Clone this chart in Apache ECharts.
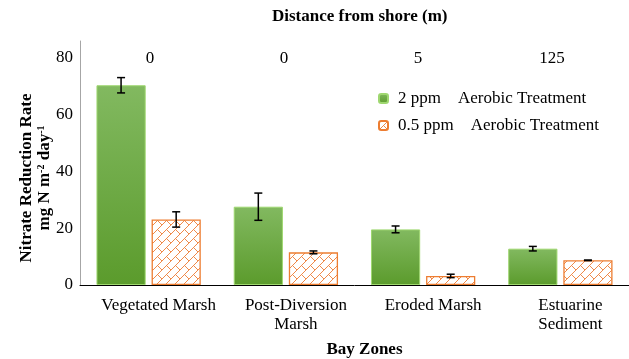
<!DOCTYPE html>
<html>
<head>
<meta charset="utf-8">
<script src="https://cdn.jsdelivr.net/npm/echarts@6/dist/echarts.min.js"></script>
<style>
html,body{margin:0;padding:0;background:#fff;}
#chart{width:629px;height:359px;}
</style>
</head>
<body>
<div id="chart"></div>
<script>
// ---- data ----
const categories = ['Vegetated Marsh', 'Post-Diversion\nMarsh', 'Eroded Marsh', 'Estuarine\nSediment'];
const distances = ['0', '0', '5', '125'];
const seriesNames = ['2 ppm    Aerobic Treatment', '0.5 ppm    Aerobic Treatment'];
const high2ppm = [70.4, 27.6, 19.6, 12.8];
const high2ppmErr = [2.7, 4.8, 1.2, 0.8];
const low05ppm = [23.1, 11.5, 3.2, 8.7];
const low05ppmErr = [2.7, 0.5, 0.6, 0.1];
const yTicks = [0, 20, 40, 60, 80];

// ---- styles ----
const FONT = '"Liberation Serif", "Times New Roman", Times, serif';
const CAT_GAP = 0.24, BAR_GAP = 0.12;

function brickPattern() {
  const s = 9;
  const c = document.createElement('canvas');
  c.width = s; c.height = s;
  const g = c.getContext('2d');
  g.fillStyle = '#ffffff';
  g.fillRect(0, 0, s, s);
  g.strokeStyle = '#ef8a4a';
  g.lineWidth = 1;
  g.beginPath();
  g.moveTo(-1, s + 1); g.lineTo(s + 1, -1);
  g.moveTo(s / 2, s / 2); g.lineTo(s + 1, s + 1);
  g.stroke();
  return c;
}

const greenFill = new echarts.graphic.LinearGradient(0, 0, 0, 1, [
  { offset: 0, color: '#82b960' },
  { offset: 1, color: '#5b9b2c' }
]);

function errData(vals, errs) {
  return vals.map((v, i) => [i, v - errs[i], v + errs[i]]);
}

function errRender(sign) {
  return function (params, api) {
    const x = api.value(0);
    const lo = api.coord([x, api.value(1)]);
    const hi = api.coord([x, api.value(2)]);
    const band = api.size([1, 0])[0];
    const w = band * (1 - CAT_GAP) / (2 + BAR_GAP);
    const off = sign * (w + w * BAR_GAP) / 2;
    const cx = lo[0] + off;
    const cap = 4;
    const st = { stroke: '#000', lineWidth: 1.5 };
    return {
      type: 'group',
      children: [
        { type: 'line', shape: { x1: cx, y1: lo[1], x2: cx, y2: hi[1] }, style: st },
        { type: 'line', shape: { x1: cx - cap, y1: lo[1], x2: cx + cap, y2: lo[1] }, style: st },
        { type: 'line', shape: { x1: cx - cap, y1: hi[1], x2: cx + cap, y2: hi[1] }, style: st }
      ]
    };
  };
}

const txt = (extra) => Object.assign({ fontFamily: FONT, fontSize: 17, fontWeight: 'normal', fontStyle: 'normal', color: '#000' }, extra || {});

const chart = echarts.init(document.getElementById('chart'));
chart.setOption({
  animation: false,
  backgroundColor: '#fff',
  textStyle: { fontFamily: FONT },
  title: {
    text: 'Distance from shore (m)',
    left: 272, top: 8, padding: 0,
    textStyle: txt({ fontWeight: 'bold' })
  },
  legend: {
    orient: 'vertical',
    left: 378, top: 90, padding: 0,
    itemWidth: 9, itemHeight: 9, itemGap: 10,
    data: seriesNames,
    textStyle: txt({ padding: [0, 0, 0, 5] })
  },
  grid: [
    { left: 80, right: 0, top: 41, bottom: 74, containLabel: false, outerBoundsMode: 'none' },
    { left: 83, width: 536, top: 69, height: 10, containLabel: false, outerBoundsMode: 'none' }
  ],
  xAxis: [
    {
      type: 'category', gridIndex: 0, data: categories,
      axisLine: { lineStyle: { color: '#000', width: 1 } },
      axisTick: { show: false },
      axisLabel: txt({ interval: 0, lineHeight: 19, margin: 11, padding: [0, 0, 0, 20] }),
      name: 'Bay Zones', nameLocation: 'middle', nameGap: 56, nameMoveOverlap: false,
      nameTextStyle: txt({ fontWeight: 'bold', padding: [0, 0, 0, 20] })
    },
    {
      type: 'category', gridIndex: 1, position: 'top', data: distances,
      axisLine: { show: false }, axisTick: { show: false },
      axisLabel: txt({ interval: 0, margin: 2 })
    }
  ],
  yAxis: [
    {
      type: 'value', gridIndex: 0, min: 0, max: 86, interval: 20,
      axisLine: { show: true, lineStyle: { color: '#a6a6a6', width: 1 } },
      axisTick: { show: false },
      splitLine: { show: false },
      axisLabel: txt({ showMaxLabel: false, margin: 7 }),
      name: '{a|Nitrate Reduction Rate}\n{a|mg N m}{s|-2}{a| day}{s|-1}',
      nameLocation: 'middle', nameRotate: 90, nameGap: 26, nameMoveOverlap: false,
      nameTextStyle: {
        color: '#000',
        padding: [0, 30, 0, 0],
        rich: {
          a: txt({ fontWeight: 'bold', lineHeight: 18 }),
          s: txt({ fontSize: 10, fontWeight: 'bold', verticalAlign: 'top', lineHeight: 18 })
        }
      }
    },
    { type: 'value', gridIndex: 1, show: false }
  ],
  series: [
    {
      name: seriesNames[0], type: 'bar', xAxisIndex: 0, yAxisIndex: 0,
      data: high2ppm,
      barGap: (BAR_GAP * 100) + '%', barCategoryGap: (CAT_GAP * 100) + '%',
      itemStyle: { color: greenFill, borderColor: '#9fd770', borderWidth: 1 }
    },
    {
      name: seriesNames[1], type: 'bar', xAxisIndex: 0, yAxisIndex: 0,
      data: low05ppm,
      barGap: (BAR_GAP * 100) + '%', barCategoryGap: (CAT_GAP * 100) + '%',
      itemStyle: { color: { image: brickPattern(), repeat: 'repeat' }, borderColor: '#ed7d31', borderWidth: 1.3 }
    },
    {
      type: 'custom', xAxisIndex: 0, yAxisIndex: 0, z: 5,
      data: errData(high2ppm, high2ppmErr),
      encode: { x: 0, y: [1, 2] },
      renderItem: errRender(-1)
    },
    {
      type: 'custom', xAxisIndex: 0, yAxisIndex: 0, z: 5,
      data: errData(low05ppm, low05ppmErr),
      encode: { x: 0, y: [1, 2] },
      renderItem: errRender(1)
    }
  ]
});
</script>
</body>
</html>
